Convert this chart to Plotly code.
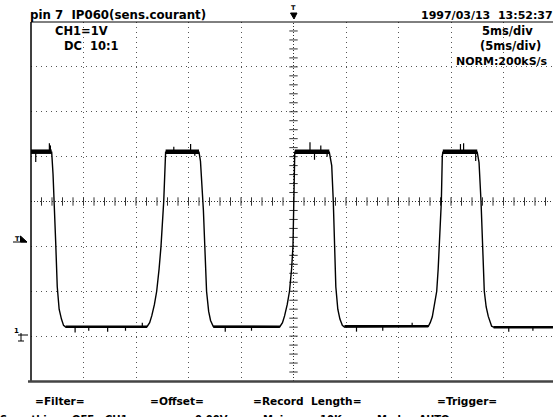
import numpy as np
import plotly.graph_objects as go

# ---------------- data ----------------
# time in ms (5 ms/div), voltage in V (1 V/div), ground = 0 V
T_MS = [0.00,
        1.97, 2.10, 2.22, 2.35, 2.50, 2.68, 2.90, 3.10, 3.30,
        11.05, 11.30, 11.50, 11.75, 11.97, 12.20, 12.38, 12.64, 12.76, 12.82,
        16.00, 16.14, 16.42, 16.55, 16.72, 16.92, 17.10, 17.35,
        23.70, 23.95, 24.15, 24.40, 24.62, 24.82, 24.95, 25.03, 25.08, 25.12,
        28.41, 28.64, 28.79, 28.89, 29.03, 29.22, 29.42, 29.65, 29.85,
        37.84, 38.02, 38.22, 38.45, 38.64, 38.78, 38.89, 39.08, 39.17, 39.22,
        42.50, 42.67, 42.86, 42.98, 43.17, 43.35, 43.55, 43.87, 44.05,
        49.71]
VOLT = [4.10,
        4.10, 3.60, 3.00, 2.10, 1.10, 0.60, 0.38, 0.24, 0.20,
        0.21, 0.30, 0.45, 0.70, 1.00, 1.50, 2.00, 3.00, 4.00, 4.10,
        4.10, 3.90, 2.80, 1.90, 1.00, 0.55, 0.35, 0.22,
        0.21, 0.30, 0.45, 0.70, 1.00, 1.50, 2.00, 3.00, 4.00, 4.10,
        4.10, 3.80, 3.00, 2.05, 1.10, 0.60, 0.38, 0.24, 0.20,
        0.22, 0.30, 0.43, 0.70, 1.00, 1.50, 2.00, 3.00, 4.00, 4.10,
        4.10, 3.87, 3.00, 2.00, 1.00, 0.65, 0.44, 0.22, 0.20,
        0.20]

# noisy plateaus (start, end, level)
HIGH_START = [0.00, 12.82, 25.12, 39.22]
HIGH_END = [1.97, 16.00, 28.41, 42.50]
HIGH_LEVEL = [4.11, 4.11, 4.11, 4.11]
LOW_START = [3.30, 17.35, 29.85, 44.05]
LOW_END = [11.05, 23.70, 37.84, 49.71]
LOW_LEVEL = [0.21, 0.21, 0.22, 0.20]

# isolated noise spikes (time, peak voltage)
SPIKE_T = [0.45, 1.75, 1.85, 13.60, 15.20, 15.60, 26.57, 27.00, 27.60, 28.20,
           40.90, 41.20, 42.35, 4.20, 5.50, 7.30, 9.00, 10.60, 18.50, 21.00,
           31.00, 33.50, 36.30, 45.50, 47.80]
SPIKE_V = [3.88, 4.30, 4.25, 4.22, 4.28, 4.02, 4.32, 3.93, 4.25, 4.00,
           4.28, 4.30, 3.90, 0.08, 0.12, 0.10, 0.12, 0.30, 0.10, 0.12,
           0.10, 0.12, 0.30, 0.10, 0.12]

# ---------------- geometry ----------------
W, H = 553, 417
ML, MR, MT, MB = 31, 0, 22, 36
PW, PH = W - ML - MR, H - MT - MB
DIV_PX = 52.5
X_MAX = PW / DIV_PX * 5.0          # ms visible
Y_MIN, Y_MAX = -1.0, 7.0


def px(x):
    return (x - ML) / PW


def py(y):
    return (H - MB - y) / PH


fig = go.Figure()

# center graticule lines with small ticks
fig.add_shape(type="line", xref="x", yref="y", x0=0, x1=X_MAX, y0=3, y1=3,
              line=dict(color="#333", width=1, dash="1px,2px"), layer="below")
fig.add_shape(type="line", xref="x", yref="y", x0=25, x1=25, y0=Y_MIN, y1=Y_MAX,
              line=dict(color="#333", width=1, dash="1px,2px"), layer="below")
xt = np.arange(1.0, X_MAX, 1.0)
fig.add_trace(go.Scatter(x=xt, y=[3] * len(xt), mode="markers", hoverinfo="skip",
                         marker=dict(symbol="line-ns", size=6, line=dict(width=1, color="#333"))))
yt = np.arange(Y_MIN + 0.2, Y_MAX, 0.2)
fig.add_trace(go.Scatter(x=[25] * len(yt), y=yt, mode="markers", hoverinfo="skip",
                         marker=dict(symbol="line-ew", size=6, line=dict(width=1, color="#333"))))

# plateau noise bands
bx, by = [], []
for s, e, l in zip(HIGH_START, HIGH_END, HIGH_LEVEL):
    bx += [s, e, None]
    by += [l, l, None]
fig.add_trace(go.Scatter(x=bx, y=by, mode="lines", hoverinfo="skip",
                         line=dict(color="black", width=4.5)))
bx, by = [], []
for s, e, l in zip(LOW_START, LOW_END, LOW_LEVEL):
    bx += [s, e, None]
    by += [l, l, None]
fig.add_trace(go.Scatter(x=bx, y=by, mode="lines", hoverinfo="skip",
                         line=dict(color="black", width=2.5)))
sx, sy = [], []
for t, v in zip(SPIKE_T, SPIKE_V):
    base = 4.11 if v > 2 else 0.21
    sx += [t, t, None]
    sy += [base, v, None]
fig.add_trace(go.Scatter(x=sx, y=sy, mode="lines", hoverinfo="skip",
                         line=dict(color="black", width=1.2)))

# waveform
fig.add_trace(go.Scatter(x=T_MS, y=VOLT, mode="lines", hoverinfo="skip",
                         line=dict(color="black", width=1.4)))

# frame
fig.add_shape(type="line", xref="paper", yref="paper", x0=0, x1=0, y0=0, y1=1,
              line=dict(color="black", width=1.5))
fig.add_shape(type="line", xref="paper", yref="paper", x0=0, x1=1, y0=1, y1=1,
              line=dict(color="black", width=1))
fig.add_shape(type="line", xref="paper", yref="paper", x0=px(28), x1=1, y0=py(381.5), y1=py(381.5),
              line=dict(color="#444", width=2.5))

# left markers: trigger level and ground
fig.add_shape(type="line", xref="paper", yref="paper", x0=px(13), x1=px(27), y0=py(242), y1=py(242),
              line=dict(color="black", width=1))
fig.add_shape(type="path", xref="paper", yref="paper",
              path=f"M {px(20.5)} {py(236)} L {px(20.5)} {py(242)} L {px(27)} {py(242)} Z",
              fillcolor="black", line=dict(color="black", width=1))
fig.add_shape(type="line", xref="paper", yref="paper", x0=px(18), x1=px(28), y0=py(335), y1=py(335),
              line=dict(color="black", width=1))
fig.add_shape(type="line", xref="paper", yref="paper", x0=px(21), x1=px(21), y0=py(333), y1=py(341),
              line=dict(color="black", width=1))
fig.add_shape(type="line", xref="paper", yref="paper", x0=px(18), x1=px(24), y0=py(341), y1=py(341),
              line=dict(color="black", width=1))
# top trigger position marker
fig.add_shape(type="path", xref="paper", yref="paper",
              path=f"M {px(290.5)} {py(13)} L {px(297)} {py(13)} L {px(294)} {py(19)} Z",
              fillcolor="black", line=dict(color="black", width=1))

FONT = "DejaVu Sans"
NB = "\u00a0"


def txt(x, y, s, anchor="left", size=11.5):
    fig.add_annotation(xref="paper", yref="paper", x=px(x), y=py(y), text=s.replace(" ", NB),
                       showarrow=False, xanchor=anchor, yanchor="middle",
                       borderpad=0, borderwidth=0,
                       font=dict(family=FONT, size=size, color="black", weight="bold"))


txt(30, 15, "pin 7  IP060(sens.courant)", size=11.8)
txt(55, 31, "CH1=1V")
txt(64, 46, "DC  10:1")
txt(553, 15, "1997/03/13  13:52:37", anchor="right", size=11)
txt(533, 31, "5ms/div", anchor="right")
txt(541, 46, "(5ms/div)", anchor="right")
txt(548, 61, "NORM:200kS/s", anchor="right", size=11)
txt(290.5, 8, "T", size=6.5)
txt(14.5, 238.5, "T", size=6.5)
txt(13.5, 331, "1", size=7)

txt(35, 400.5, "=Filter=", size=10.6)
txt(150, 400.5, "=Offset=", size=10.6)
txt(253, 400.5, "=Record  Length=", size=10.6)
txt(437, 400.5, "=Trigger=", size=10.6)
txt(0, 419, "Smoothing : OFF", size=10)
txt(105, 419, "CH1 :", size=10)
txt(195, 419, "0.00V", size=10)
txt(263, 419, "Main :", size=10)
txt(320, 419, "10K", size=10)
txt(377, 419, "Mode : AUTO", size=10)

fig.update_layout(
    width=W, height=H, margin=dict(l=ML, r=MR, t=MT, b=MB, pad=0),
    paper_bgcolor="white", plot_bgcolor="white", showlegend=False,
    xaxis=dict(range=[0, X_MAX], tickvals=[5, 10, 15, 20, 30, 35, 40, 45],
               showticklabels=False, ticks="", showgrid=True, gridcolor="#555",
               griddash="1px,4px", gridwidth=1, zeroline=False, showline=False, fixedrange=True),
    yaxis=dict(range=[Y_MIN, Y_MAX], tickvals=[0, 1, 2, 4, 5, 6],
               showticklabels=False, ticks="", showgrid=True, gridcolor="#555",
               griddash="1px,4px", gridwidth=1, zeroline=False, showline=False, fixedrange=True),
)

fig.write_html("out.html")
